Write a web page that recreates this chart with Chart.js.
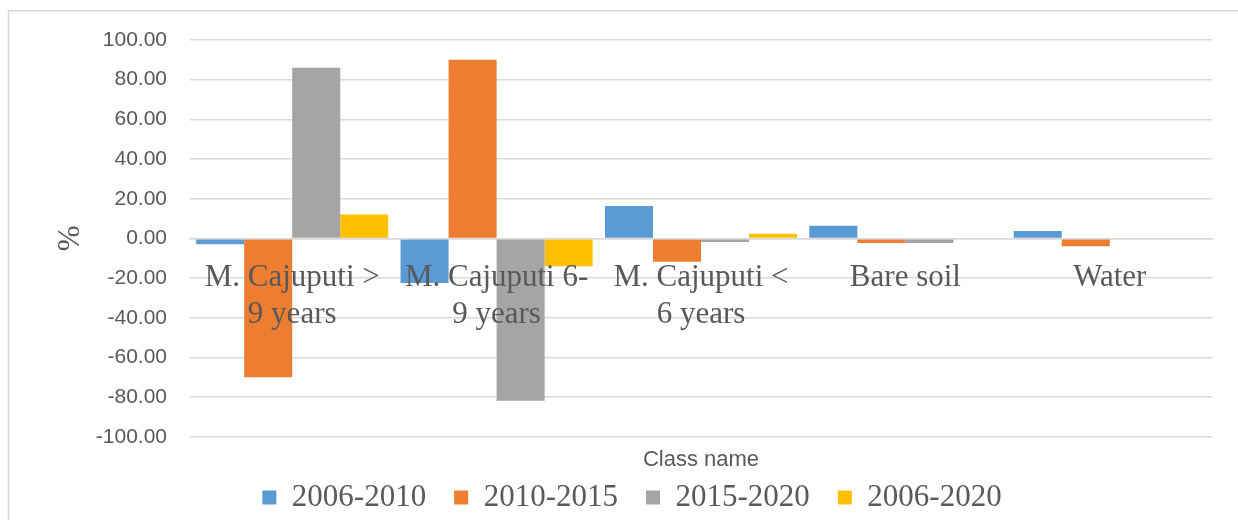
<!DOCTYPE html>
<html>
<head>
<meta charset="utf-8">
<script src="https://cdn.jsdelivr.net/npm/chart.js@4/dist/chart.umd.min.js"></script>
<style>
  html, body { margin: 0; padding: 0; background: #ffffff; }
  #wrap { width: 1238px; height: 520px; position: relative; }
</style>
</head>
<body>
<div id="wrap"><canvas id="c" width="1238" height="520"></canvas></div>
<script>
const categories = [
  ["M. Cajuputi >", "9 years"],
  ["M. Cajuputi 6-", "9 years"],
  ["M. Cajuputi <", "6 years"],
  "Bare soil",
  "Water"
];
const seriesNames = ["2006-2010", "2010-2015", "2015-2020", "2006-2020"];
const s2006_2010 = [-3.0, -22.5, 16.3, 6.4, 3.7];
const s2010_2015 = [-70.0, 90.0, -11.8, -2.3, -3.9];
const s2015_2020 = [86.0, -81.8, -1.8, -2.3, 0];
const s2006_2020 = [12.1, -14.1, 2.4, 0, 0];
const yTicks = [-100, -80, -60, -40, -20, 0, 20, 40, 60, 80, 100];
const colors = ["#5b9bd5", "#ed7d31", "#a5a5a5", "#ffc000"];

const serif = "'Liberation Serif', 'Times New Roman', serif";
const sans = "'Liberation Sans', Arial, sans-serif";
const textColor = "#595959";
const gridColor = "#d9d9d9";

const frame = {
  id: 'frame',
  beforeDraw(chart) {
    const ctx = chart.ctx;
    ctx.save();
    ctx.strokeStyle = gridColor;
    ctx.lineWidth = 1.5;
    ctx.beginPath();
    ctx.moveTo(8.5, 520);
    ctx.lineTo(8.5, 10.75);
    ctx.lineTo(1238, 10.75);
    ctx.stroke();
    ctx.restore();
  }
};

const allSeries = [s2006_2010, s2010_2015, s2015_2020, s2006_2020];

new Chart(document.getElementById('c'), {
  type: 'bar',
  data: {
    labels: categories,
    datasets: allSeries.map((d, i) => ({
      label: seriesNames[i],
      data: d,
      backgroundColor: colors[i],
      borderWidth: 0,
      barPercentage: 1.0,
      categoryPercentage: 0.94
    }))
  },
  options: {
    responsive: false,
    animation: false,
    layout: { padding: { left: 52, right: 26, top: 40, bottom: 2 } },
    scales: {
      x: {
        type: 'category',
        position: { y: 0 },
        grid: { display: false },
        border: { display: true, color: gridColor, width: 1.5, z: 1 },
        ticks: {
          z: 2,
          font: { family: serif, size: 31, lineHeight: 1.2 },
          color: textColor,
          padding: 13,
          maxRotation: 0,
          minRotation: 0,
          autoSkip: false
        }
      },
      y: {
        min: -100,
        max: 100,
        afterBuildTicks(scale) { scale.ticks = yTicks.map(v => ({ value: v })); },
        afterFit(scale) { scale.width = 138; },
        grid: { color: gridColor, lineWidth: 1.5, drawTicks: false },
        border: { display: false },
        ticks: {
          font: { family: sans, size: 21 },
          color: textColor,
          padding: 23,
          callback: v => Number(v).toFixed(2)
        },
        title: {
          display: true,
          text: '%',
          font: { family: serif, size: 31, lineHeight: 1.2 },
          color: textColor,
          padding: { top: 0, bottom: 0 }
        }
      }
    },
    plugins: {
      legend: {
        position: 'bottom',
        maxHeight: 64,
        labels: {
          font: { family: serif, size: 31 },
          color: textColor,
          boxWidth: 14,
          boxHeight: 14,
          padding: 28
        }
      },
      title: {
        display: true,
        position: 'bottom',
        fullSize: false,
        weight: 500,
        text: 'Class name',
        font: { family: sans, size: 22, weight: 'normal', lineHeight: 0.6 },
        color: textColor,
        padding: { top: 17, bottom: -13 }
      },
      tooltip: { enabled: false }
    }
  },
  plugins: [frame]
});
</script>
</body>
</html>
